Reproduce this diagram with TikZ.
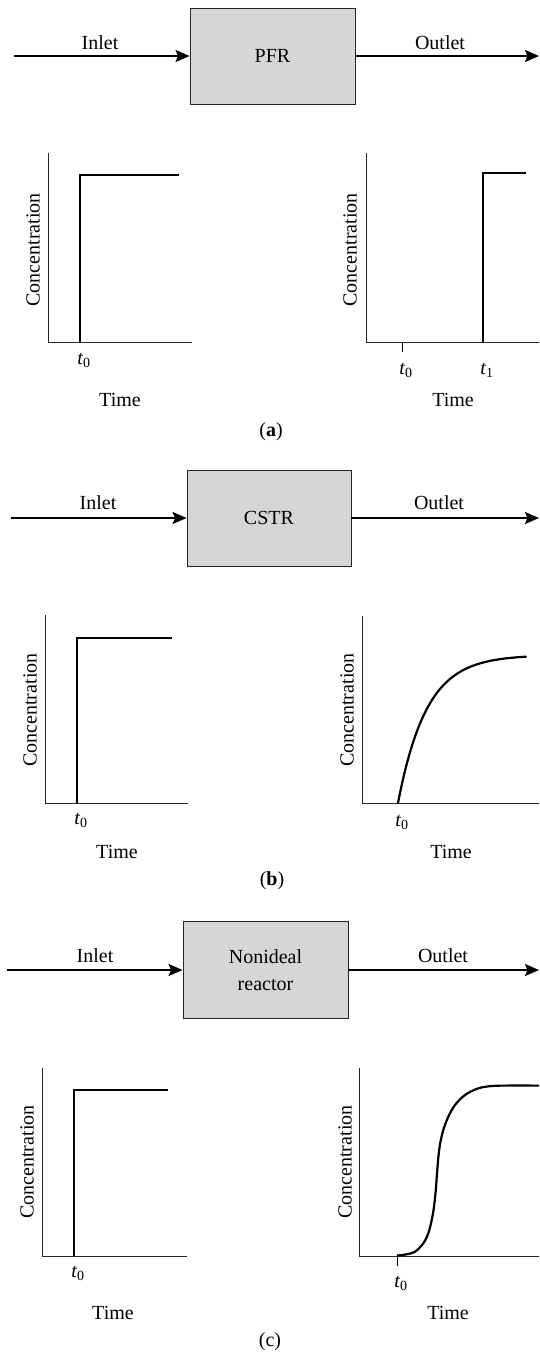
\documentclass[tikz,border=0pt]{standalone}
\usepackage{fontspec}
\setmainfont{Liberation Serif}
\usetikzlibrary{arrows.meta}
\tikzset{
  lbl/.style={font=\fontsize{20}{23}\selectfont, inner sep=0pt},
  reactor/.style={draw=black!85, line width=0.9pt, fill=black!16, minimum width=#1},
  flow/.style={line width=1.8pt, -{Stealth[length=14pt,width=12pt,inset=2.5pt]}},
  axis/.style={line width=0.9pt, black!85},
  resp/.style={line width=2.2pt, line join=miter},
  tick/.style={line width=0.9pt},
}
\newcommand{\tz}{\textit{t}\textsubscript{0}}
\newcommand{\tone}{\textit{t}\textsubscript{1}}
\begin{document}
\begin{tikzpicture}[x=1pt,y=-1pt]
\useasboundingbox (0,0) rectangle (539,1355);

% ================= (a) =================
\node[reactor=165pt, minimum height=96pt, lbl] (pfr) at (272.5,56) {PFR};
\coordinate (ain) at (14,56);
\coordinate (aout) at (539,56);
\draw[flow] (ain) -- (pfr.west);
\draw[flow] (pfr.east) -- (aout);
\node[lbl] (ainl) at (100,43) {Inlet};
\node[lbl] (aoutl) at (440,43) {Outlet};

% left plot
\draw[axis] (48,153) -- (48,342) -- (192,342);
\draw[resp] (80,342) -- (80,175) -- (179,175);
\node[lbl] (at0l) at (84,360) {\tz};
\node[lbl] (atimel) at (120,400) {Time};
\node[lbl, rotate=90] (aconcl) at (33,250) {Concentration};

% right plot
\draw[axis] (366,153) -- (366,342) -- (539,342);
\draw[tick] (402,342) -- (402,352);
\draw[resp] (483,342) -- (483,173) -- (526,173);
\node[lbl] (at0r) at (406,370) {\tz};
\node[lbl] (at1r) at (487,370) {\tone};
\node[lbl] (atimer) at (453,400) {Time};
\node[lbl, rotate=90] (aconcr) at (350,250) {Concentration};

\node[lbl] (alab) at (271,432) {(\textbf{a})};

% ================= (b) =================
\node[reactor=164pt, minimum height=96pt, lbl] (cstr) at (269,518) {CSTR};
\coordinate (bin) at (11,518);
\coordinate (bout) at (539,518);
\draw[flow] (bin) -- (cstr.west);
\draw[flow] (cstr.east) -- (bout);
\node[lbl] (binl) at (98,503) {Inlet};
\node[lbl] (boutl) at (439,503) {Outlet};

% left plot
\draw[axis] (45,615) -- (45,803) -- (188,803);
\draw[resp] (77,803) -- (77,638) -- (172,638);
\node[lbl] (bt0l) at (81,820) {\tz};
\node[lbl] (btimel) at (117,852) {Time};
\node[lbl, rotate=90] (bconcl) at (30,710) {Concentration};

% right plot
\draw[axis] (362,616) -- (362,803) -- (539,803);
\draw[resp, line cap=round] plot[domain=0:128, samples=90, smooth] ({398+\x},{803-148*(1-exp(-0.035*\x))});
\node[lbl] (bt0r) at (402,822) {\tz};
\node[lbl] (btimer) at (451,852) {Time};
\node[lbl, rotate=90] (bconcr) at (347,710) {Concentration};

\node[lbl] (blab) at (272,881) {(\textbf{b})};

% ================= (c) =================
\node[reactor=165pt, minimum height=97pt, lbl, align=center] (nonid) at (265.5,970) {Nonideal\\[4pt]reactor};
\coordinate (cin) at (7,970);
\coordinate (cout) at (539,970);
\draw[flow] (cin) -- (nonid.west);
\draw[flow] (nonid.east) -- (cout);
\node[lbl] (cinl) at (95,956) {Inlet};
\node[lbl] (coutl) at (443,956) {Outlet};

% left plot
\draw[axis] (42,1068) -- (42,1256) -- (187,1256);
\draw[resp] (74,1256) -- (74,1090) -- (168,1090);
\node[lbl] (ct0l) at (78,1273) {\tz};
\node[lbl] (ctimel) at (113,1313) {Time};
\node[lbl, rotate=90] (cconcl) at (27,1162) {Concentration};

% right plot
\draw[axis] (359,1068) -- (359,1256) -- (539,1256);
\draw[tick] (397,1256) -- (397,1266);
\draw[resp] plot[smooth, tension=0.55] coordinates {
  (397,1255.5) (405,1254.6) (415,1251.7) (423.3,1243.3) (428.3,1233.3)
  (431.7,1220) (434,1206.7) (435.8,1190) (437,1173.3) (438.4,1156.7)
  (440.2,1143.3) (443.3,1130) (448.3,1116.7) (455,1105) (465,1095)
  (478.3,1088.3) (491.7,1086) (505,1085.6) (539,1085.6)};
\node[lbl] (ct0r) at (401,1283) {\tz};
\node[lbl] (ctimer) at (448,1313) {Time};
\node[lbl, rotate=90] (cconcr) at (345,1162) {Concentration};

\node[lbl] (clab) at (270,1342) {(c)};
\end{tikzpicture}
\end{document}
